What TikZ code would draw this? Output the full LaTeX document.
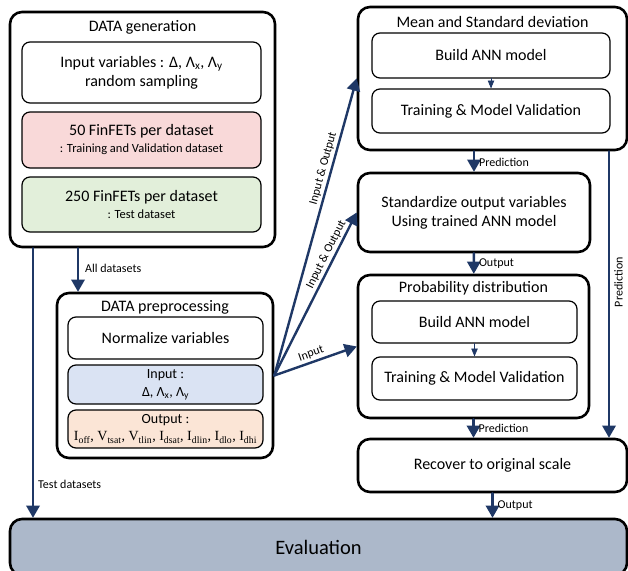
\documentclass[tikz,border=0pt]{standalone}
\usepackage{fontspec}
\setmainfont{Carlito}
\newfontfamily\timespart{Liberation Serif}
\usepackage{tikz}
\usetikzlibrary{arrows,positioning}
\definecolor{flowblue}{rgb}{0.12,0.22,0.40}
\definecolor{trainpink}{rgb}{0.976,0.851,0.851}
\definecolor{testgreen}{rgb}{0.886,0.937,0.855}
\definecolor{inputblue}{rgb}{0.855,0.890,0.953}
\definecolor{outputpeach}{rgb}{0.984,0.898,0.839}
\definecolor{evalgray}{rgb}{0.675,0.722,0.792}
\tikzstyle{every node}=[font=\fontsize{16}{19}\selectfont]
\tikzset{
  outerbox/.style={draw,line width=2.6pt,rounded corners=12pt,inner sep=0pt},
  innerbox/.style={draw,line width=1.2pt,rounded corners=8pt,align=center,inner sep=0pt},
  flow/.style={-triangle 60,draw=flowblue,line width=2.4pt},
  thinflow/.style={->,draw=flowblue,line width=0.8pt},
  lbl/.style={font=\fontsize{12}{14}\selectfont,inner sep=2pt}
}

\begin{document}
\begin{tikzpicture}[line cap=round,line join=round,>=triangle 45,x=1pt,y=-1pt]
\clip (0,0) rectangle (628,570);
% DATA generation
\node[outerbox,minimum width=265,minimum height=235] (gen) at (142.5,129.5) {};
\node (gentitle) at (142.5,27) {DATA generation};
\node[innerbox,minimum width=239,minimum height=61] (genvar) at (141.5,72.5) {Input variables : Δ, Λ\textsubscript{x}, Λ\textsubscript{y}\\random sampling};
\node[innerbox,fill=trainpink,minimum width=239,minimum height=56] (gentrain) at (141.5,140) {50 FinFETs per dataset\\[-2pt]{\fontsize{12.5}{15}\selectfont : Training and Validation dataset}};
\node[innerbox,fill=testgreen,minimum width=239,minimum height=55] (gentest) at (141.5,204.5) {250 FinFETs per dataset\\[-2pt]{\fontsize{12.5}{15}\selectfont : Test dataset}};
% DATA preprocessing
\node[outerbox,minimum width=216,minimum height=165] (pre) at (165,375.5) {};
\node (pretitle) at (165,307) {DATA preprocessing};
\node[innerbox,minimum width=195,minimum height=42] (prenorm) at (165.5,338) {Normalize variables};
\node[innerbox,fill=inputblue,minimum width=195,minimum height=39,font=\fontsize{14}{18}\selectfont] (prein) at (165.5,384.5) {Input :\\Δ, Λ\textsubscript{x}, Λ\textsubscript{y}};
\node[innerbox,fill=outputpeach,minimum width=195,minimum height=38,font=\fontsize{14}{17}\selectfont] (preout) at (165.5,429) {Output :\\{\timespart I\textsubscript{off}, V\textsubscript{tsat}, V\textsubscript{tlin}, I\textsubscript{dsat}, I\textsubscript{dlin}, I\textsubscript{dlo}, I\textsubscript{dhi}}};
% Mean and Standard deviation
\node[outerbox,minimum width=269,minimum height=143] (msd) at (492.5,78.5) {};
\node (msdtitle) at (492.5,22) {Mean and Standard deviation};
\node[innerbox,minimum width=238,minimum height=45] (msdbuild) at (491,55.5) {Build ANN model};
\node[innerbox,minimum width=238,minimum height=44] (msdtrain) at (491,111) {Training \& Model Validation};
% Standardize
\node[outerbox,align=center,minimum width=232,minimum height=79] (std) at (474,212.5) {Standardize output variables\\Using trained ANN model};
% Probability distribution
\node[outerbox,minimum width=231,minimum height=143] (prob) at (473.5,346.5) {};
\node (probtitle) at (473.5,288) {Probability distribution};
\node[innerbox,minimum width=205,minimum height=42] (probbuild) at (474.5,322) {Build ANN model};
\node[innerbox,minimum width=205,minimum height=43] (probtrain) at (474.5,378.5) {Training \& Model Validation};
% Recover and Evaluation
\node[outerbox,minimum width=269,minimum height=53] (rec) at (492.5,465.5) {Recover to original scale};
\node[outerbox,fill=evalgray,minimum width=617,minimum height=56,font=\fontsize{20.5}{24}\selectfont] (eval) at (318.5,547) {Evaluation};
\coordinate (testx) at (33,0);
\coordinate (allx) at (78,0);
\coordinate (sidex) at (609,0);
% connectors
\draw[flow] (gen.south -| testx) -- node[lbl,right,pos=0.875,xshift=2pt]{Test datasets} (eval.north -| testx);
\draw[flow] (gen.south -| allx) -- node[lbl,right,pos=0.46,xshift=4pt]{All datasets} (pre.north -| allx);
\draw[flow] (pre.east) -- node[lbl,sloped,above,pos=0.69]{Input \& Output} (msd.west);
\draw[flow] (pre.east) -- node[lbl,sloped,above,pos=0.72]{Input \& Output} (std.west);
\draw[flow] (pre.east) -- node[lbl,sloped,above,pos=0.48]{Input} (prob.west);
\draw[thinflow] (msdbuild) -- (msdtrain);
\draw[thinflow] (probbuild) -- (probtrain);
\draw[flow] (msd.south -| std.north) -- node[lbl,right,pos=0.52,xshift=2pt]{Prediction} (std.north);
\draw[flow] (std) -- node[lbl,right,pos=0.5,xshift=2pt]{Output} (prob);
\draw[flow] (prob) -- node[lbl,right,pos=0.5,xshift=2pt]{Prediction} (rec.north -| prob.south);
\draw[flow] (rec) -- node[lbl,right,pos=0.5,xshift=2pt]{Output} (eval.north -| rec.south);
\draw[flow] (msd.south -| sidex) -- node[lbl,rotate=90,anchor=north,pos=0.457,yshift=-2pt]{Prediction} (rec.north -| sidex);
\end{tikzpicture}
\end{document}
